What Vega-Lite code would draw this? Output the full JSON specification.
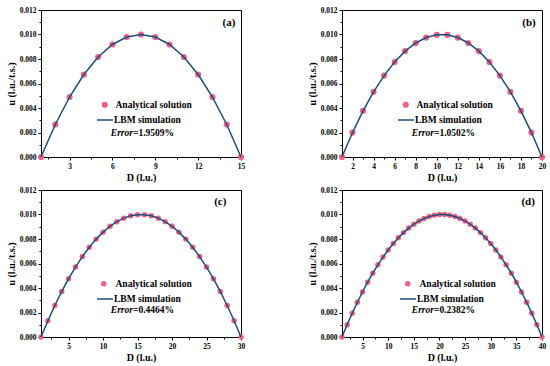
{
"$schema": "https://vega.github.io/schema/vega-lite/v6.json",
"padding": {"left": 5, "top": 5, "right": 0, "bottom": 0},
"background": "white",
"config": {
  "font": "Liberation Serif",
  "view": {"stroke": "black", "strokeWidth": 1},
  "axis": {"labelFont": "Liberation Serif", "labelFontWeight": "bold", "labelFontSize": 7.5, "labelColor": "black",
           "titleFont": "Liberation Serif", "titleFontWeight": "bold", "titleFontSize": 10, "titleColor": "black",
           "domainColor": "black", "tickColor": "black", "grid": false, "tickSize": 3, "labelPadding": 2, "labelFlush": false, "titlePadding": 3},
  "legend": {"labelFont": "Liberation Serif", "labelFontWeight": "bold", "labelFontSize": 9.5, "labelColor": "black", "padding": 0, "title": null}
},
"datasets": {
  "a": [{"D":1,"u":0},{"D":2,"u":0.002653},{"D":3,"u":0.004898},{"D":4,"u":0.006735},{"D":5,"u":0.008163},{"D":6,"u":0.009184},{"D":7,"u":0.009796},{"D":8,"u":0.01},{"D":9,"u":0.009796},{"D":10,"u":0.009184},{"D":11,"u":0.008163},{"D":12,"u":0.006735},{"D":13,"u":0.004898},{"D":14,"u":0.002653},{"D":15,"u":0}],
  "b": [{"D":1,"u":0},{"D":2,"u":0.001994},{"D":3,"u":0.003767},{"D":4,"u":0.005319},{"D":5,"u":0.006648},{"D":6,"u":0.007756},{"D":7,"u":0.008643},{"D":8,"u":0.009307},{"D":9,"u":0.009751},{"D":10,"u":0.009972},{"D":11,"u":0.009972},{"D":12,"u":0.009751},{"D":13,"u":0.009307},{"D":14,"u":0.008643},{"D":15,"u":0.007756},{"D":16,"u":0.006648},{"D":17,"u":0.005319},{"D":18,"u":0.003767},{"D":19,"u":0.001994},{"D":20,"u":0}],
  "c": [{"D":1,"u":0},{"D":2,"u":0.001332},{"D":3,"u":0.002568},{"D":4,"u":0.00371},{"D":5,"u":0.004756},{"D":6,"u":0.005707},{"D":7,"u":0.006564},{"D":8,"u":0.007325},{"D":9,"u":0.00799},{"D":10,"u":0.008561},{"D":11,"u":0.009037},{"D":12,"u":0.009417},{"D":13,"u":0.009703},{"D":14,"u":0.009893},{"D":15,"u":0.009988},{"D":16,"u":0.009988},{"D":17,"u":0.009893},{"D":18,"u":0.009703},{"D":19,"u":0.009417},{"D":20,"u":0.009037},{"D":21,"u":0.008561},{"D":22,"u":0.00799},{"D":23,"u":0.007325},{"D":24,"u":0.006564},{"D":25,"u":0.005707},{"D":26,"u":0.004756},{"D":27,"u":0.00371},{"D":28,"u":0.002568},{"D":29,"u":0.001332},{"D":30,"u":0}],
  "d": [{"D":1,"u":0},{"D":2,"u":0.000999},{"D":3,"u":0.001946},{"D":4,"u":0.00284},{"D":5,"u":0.003682},{"D":6,"u":0.004471},{"D":7,"u":0.005207},{"D":8,"u":0.005891},{"D":9,"u":0.006522},{"D":10,"u":0.007101},{"D":11,"u":0.007626},{"D":12,"u":0.0081},{"D":13,"u":0.008521},{"D":14,"u":0.008889},{"D":15,"u":0.009204},{"D":16,"u":0.009467},{"D":17,"u":0.009678},{"D":18,"u":0.009836},{"D":19,"u":0.009941},{"D":20,"u":0.009993},{"D":21,"u":0.009993},{"D":22,"u":0.009941},{"D":23,"u":0.009836},{"D":24,"u":0.009678},{"D":25,"u":0.009467},{"D":26,"u":0.009204},{"D":27,"u":0.008889},{"D":28,"u":0.008521},{"D":29,"u":0.0081},{"D":30,"u":0.007626},{"D":31,"u":0.007101},{"D":32,"u":0.006522},{"D":33,"u":0.005891},{"D":34,"u":0.005207},{"D":35,"u":0.004471},{"D":36,"u":0.003682},{"D":37,"u":0.00284},{"D":38,"u":0.001946},{"D":39,"u":0.000999},{"D":40,"u":0}]
},
"resolve": {"scale": {"x": "independent", "y": "independent", "fill": "independent", "stroke": "independent"}, "legend": {"fill": "independent", "stroke": "independent"}},
"spacing": 2,
"vconcat": [
 {"spacing": 60,
  "resolve": {"scale": {"x": "independent", "y": "independent", "fill": "independent", "stroke": "independent"}, "legend": {"fill": "independent", "stroke": "independent"}},
  "hconcat": [
  {"width": 200, "height": 147,
   "resolve": {"axis": {"x": "independent", "y": "independent"}},
   "layer": [
    {"data": {"name": "a"}, "mark": {"type": "point", "filled": true, "size": 38, "opacity": 1, "strokeWidth": 0},
     "encoding": {
      "x": {"field": "D", "type": "quantitative", "scale": {"domain": [1, 15], "nice": false, "zero": false}, "axis": {"orient": "bottom", "values": [1.5,4.5,7.5,10.5,13.5], "labels": false, "title": null, "domain": false, "tickSize": 2}},
      "y": {"field": "u", "type": "quantitative", "scale": {"domain": [0, 0.012], "nice": false}, "axis": {"orient": "left", "values": [0.001,0.003,0.005,0.007,0.009,0.011], "labels": false, "title": null, "domain": false, "tickSize": 2}},
      "fill": {"datum": "Analytical solution", "type": "nominal", "scale": {"range": ["#f2617e"]}, "legend": {"orient": "none", "legendX": 59, "legendY": 90, "symbolType": "circle", "symbolSize": 38, "symbolStrokeWidth": 0, "labelOffset": 6}}
     }},
    {"data": {"name": "a"}, "mark": {"type": "line", "strokeWidth": 1.5},
     "encoding": {
      "x": {"field": "D", "type": "quantitative", "axis": {"orient": "bottom", "values": [3,6,9,12,15], "title": "D (l.u.)"}},
      "y": {"field": "u", "type": "quantitative", "axis": {"orient": "left", "values": [0,0.002,0.004,0.006,0.008,0.01,0.012], "format": ".3f", "title": "u (l.u./t.s.)"}},
      "stroke": {"datum": "LBM simulation", "type": "nominal", "scale": {"range": ["#1c4e80"]}, "legend": {"orient": "none", "legendX": 55, "legendY": 101, "symbolType": "stroke", "symbolSize": 256, "symbolStrokeWidth": 1.5, "labelOffset": 0}}
     }},
    {"data": {"values": [{}]}, "mark": {"type": "text", "align": "right", "baseline": "middle", "fontStyle": "italic", "fontWeight": "bold", "fontSize": 9.5, "text": "Error", "color": "black"},
     "encoding": {"x": {"datum": 7.44, "type": "quantitative", "axis": null}, "y": {"datum": 0.00196, "type": "quantitative", "axis": null}}},
    {"data": {"values": [{}]}, "mark": {"type": "text", "align": "left", "baseline": "middle", "fontWeight": "bold", "fontSize": 9.5, "text": "=1.9509%", "color": "black"},
     "encoding": {"x": {"datum": 7.44, "type": "quantitative", "axis": null}, "y": {"datum": 0.00196, "type": "quantitative", "axis": null}}},
    {"data": {"values": [{}]}, "mark": {"type": "text", "align": "center", "baseline": "middle", "fontWeight": "bold", "fontSize": 11, "text": "(a)", "color": "black"},
     "encoding": {"x": {"datum": 14.16, "type": "quantitative", "axis": null}, "y": {"datum": 0.01094, "type": "quantitative", "axis": null}}}
   ]},
  {"width": 200, "height": 147,
   "resolve": {"axis": {"x": "independent", "y": "independent"}},
   "layer": [
    {"data": {"name": "b"}, "mark": {"type": "point", "filled": true, "size": 38, "opacity": 1, "strokeWidth": 0},
     "encoding": {
      "x": {"field": "D", "type": "quantitative", "scale": {"domain": [1, 20], "nice": false, "zero": false}, "axis": {"orient": "bottom", "values": [1,3,5,7,9,11,13,15,17,19], "labels": false, "title": null, "domain": false, "tickSize": 2}},
      "y": {"field": "u", "type": "quantitative", "scale": {"domain": [0, 0.012], "nice": false}, "axis": {"orient": "left", "values": [0.001,0.003,0.005,0.007,0.009,0.011], "labels": false, "title": null, "domain": false, "tickSize": 2}},
      "fill": {"datum": "Analytical solution", "type": "nominal", "scale": {"range": ["#f2617e"]}, "legend": {"orient": "none", "legendX": 59, "legendY": 90, "symbolType": "circle", "symbolSize": 38, "symbolStrokeWidth": 0, "labelOffset": 6}}
     }},
    {"data": {"name": "b"}, "mark": {"type": "line", "strokeWidth": 1.5},
     "encoding": {
      "x": {"field": "D", "type": "quantitative", "axis": {"orient": "bottom", "values": [2,4,6,8,10,12,14,16,18,20], "title": "D (l.u.)"}},
      "y": {"field": "u", "type": "quantitative", "axis": {"orient": "left", "values": [0,0.002,0.004,0.006,0.008,0.01,0.012], "format": ".3f", "title": "u (l.u./t.s.)"}},
      "stroke": {"datum": "LBM simulation", "type": "nominal", "scale": {"range": ["#1c4e80"]}, "legend": {"orient": "none", "legendX": 55, "legendY": 101, "symbolType": "stroke", "symbolSize": 256, "symbolStrokeWidth": 1.5, "labelOffset": 0}}
     }},
    {"data": {"values": [{}]}, "mark": {"type": "text", "align": "right", "baseline": "middle", "fontStyle": "italic", "fontWeight": "bold", "fontSize": 9.5, "text": "Error", "color": "black"},
     "encoding": {"x": {"datum": 9.74, "type": "quantitative", "axis": null}, "y": {"datum": 0.00196, "type": "quantitative", "axis": null}}},
    {"data": {"values": [{}]}, "mark": {"type": "text", "align": "left", "baseline": "middle", "fontWeight": "bold", "fontSize": 9.5, "text": "=1.0502%", "color": "black"},
     "encoding": {"x": {"datum": 9.74, "type": "quantitative", "axis": null}, "y": {"datum": 0.00196, "type": "quantitative", "axis": null}}},
    {"data": {"values": [{}]}, "mark": {"type": "text", "align": "center", "baseline": "middle", "fontWeight": "bold", "fontSize": 11, "text": "(b)", "color": "black"},
     "encoding": {"x": {"datum": 18.76, "type": "quantitative", "axis": null}, "y": {"datum": 0.01094, "type": "quantitative", "axis": null}}}
   ]}
 ]},
 {"spacing": 60,
  "resolve": {"scale": {"x": "independent", "y": "independent", "fill": "independent", "stroke": "independent"}, "legend": {"fill": "independent", "stroke": "independent"}},
  "hconcat": [
  {"width": 200, "height": 147,
   "resolve": {"axis": {"x": "independent", "y": "independent"}},
   "layer": [
    {"data": {"name": "c"}, "mark": {"type": "point", "filled": true, "size": 30, "opacity": 1, "strokeWidth": 0},
     "encoding": {
      "x": {"field": "D", "type": "quantitative", "scale": {"domain": [1, 30], "nice": false, "zero": false}, "axis": {"orient": "bottom", "values": [2.5,7.5,12.5,17.5,22.5,27.5], "labels": false, "title": null, "domain": false, "tickSize": 2}},
      "y": {"field": "u", "type": "quantitative", "scale": {"domain": [0, 0.012], "nice": false}, "axis": {"orient": "left", "values": [0.001,0.003,0.005,0.007,0.009,0.011], "labels": false, "title": null, "domain": false, "tickSize": 2}},
      "fill": {"datum": "Analytical solution", "type": "nominal", "scale": {"range": ["#f2617e"]}, "legend": {"orient": "none", "legendX": 58, "legendY": 89, "symbolType": "circle", "symbolSize": 30, "symbolStrokeWidth": 0, "labelOffset": 7}}
     }},
    {"data": {"name": "c"}, "mark": {"type": "line", "strokeWidth": 1.5},
     "encoding": {
      "x": {"field": "D", "type": "quantitative", "axis": {"orient": "bottom", "values": [5,10,15,20,25,30], "title": "D (l.u.)"}},
      "y": {"field": "u", "type": "quantitative", "axis": {"orient": "left", "values": [0,0.002,0.004,0.006,0.008,0.01,0.012], "format": ".3f", "title": "u (l.u./t.s.)"}},
      "stroke": {"datum": "LBM simulation", "type": "nominal", "scale": {"range": ["#1c4e80"]}, "legend": {"orient": "none", "legendX": 55, "legendY": 100, "symbolType": "stroke", "symbolSize": 256, "symbolStrokeWidth": 1.5, "labelOffset": 0}}
     }},
    {"data": {"values": [{}]}, "mark": {"type": "text", "align": "right", "baseline": "middle", "fontStyle": "italic", "fontWeight": "bold", "fontSize": 9.5, "text": "Error", "color": "black"},
     "encoding": {"x": {"datum": 14.34, "type": "quantitative", "axis": null}, "y": {"datum": 0.00221, "type": "quantitative", "axis": null}}},
    {"data": {"values": [{}]}, "mark": {"type": "text", "align": "left", "baseline": "middle", "fontWeight": "bold", "fontSize": 9.5, "text": "=0.4464%", "color": "black"},
     "encoding": {"x": {"datum": 14.34, "type": "quantitative", "axis": null}, "y": {"datum": 0.00221, "type": "quantitative", "axis": null}}},
    {"data": {"values": [{}]}, "mark": {"type": "text", "align": "center", "baseline": "middle", "fontWeight": "bold", "fontSize": 11, "text": "(c)", "color": "black"},
     "encoding": {"x": {"datum": 27.0, "type": "quantitative", "axis": null}, "y": {"datum": 0.01102, "type": "quantitative", "axis": null}}}
   ]},
  {"width": 200, "height": 147,
   "resolve": {"axis": {"x": "independent", "y": "independent"}},
   "layer": [
    {"data": {"name": "d"}, "mark": {"type": "point", "filled": true, "size": 30, "opacity": 1, "strokeWidth": 0},
     "encoding": {
      "x": {"field": "D", "type": "quantitative", "scale": {"domain": [1, 40], "nice": false, "zero": false}, "axis": {"orient": "bottom", "values": [2.5,7.5,12.5,17.5,22.5,27.5,32.5,37.5], "labels": false, "title": null, "domain": false, "tickSize": 2}},
      "y": {"field": "u", "type": "quantitative", "scale": {"domain": [0, 0.012], "nice": false}, "axis": {"orient": "left", "values": [0.001,0.003,0.005,0.007,0.009,0.011], "labels": false, "title": null, "domain": false, "tickSize": 2}},
      "fill": {"datum": "Analytical solution", "type": "nominal", "scale": {"range": ["#f2617e"]}, "legend": {"orient": "none", "legendX": 61, "legendY": 89, "symbolType": "circle", "symbolSize": 30, "symbolStrokeWidth": 0, "labelOffset": 7}}
     }},
    {"data": {"name": "d"}, "mark": {"type": "line", "strokeWidth": 1.5},
     "encoding": {
      "x": {"field": "D", "type": "quantitative", "axis": {"orient": "bottom", "values": [5,10,15,20,25,30,35,40], "title": "D (l.u.)"}},
      "y": {"field": "u", "type": "quantitative", "axis": {"orient": "left", "values": [0,0.002,0.004,0.006,0.008,0.01,0.012], "format": ".3f", "title": "u (l.u./t.s.)"}},
      "stroke": {"datum": "LBM simulation", "type": "nominal", "scale": {"range": ["#1c4e80"]}, "legend": {"orient": "none", "legendX": 57, "legendY": 100, "symbolType": "stroke", "symbolSize": 256, "symbolStrokeWidth": 1.5, "labelOffset": 0}}
     }},
    {"data": {"values": [{}]}, "mark": {"type": "text", "align": "right", "baseline": "middle", "fontStyle": "italic", "fontWeight": "bold", "fontSize": 9.5, "text": "Error", "color": "black"},
     "encoding": {"x": {"datum": 18.94, "type": "quantitative", "axis": null}, "y": {"datum": 0.00221, "type": "quantitative", "axis": null}}},
    {"data": {"values": [{}]}, "mark": {"type": "text", "align": "left", "baseline": "middle", "fontWeight": "bold", "fontSize": 9.5, "text": "=0.2382%", "color": "black"},
     "encoding": {"x": {"datum": 18.94, "type": "quantitative", "axis": null}, "y": {"datum": 0.00221, "type": "quantitative", "axis": null}}},
    {"data": {"values": [{}]}, "mark": {"type": "text", "align": "center", "baseline": "middle", "fontWeight": "bold", "fontSize": 11, "text": "(d)", "color": "black"},
     "encoding": {"x": {"datum": 37.3, "type": "quantitative", "axis": null}, "y": {"datum": 0.01102, "type": "quantitative", "axis": null}}}
   ]}
 ]}
]
}
